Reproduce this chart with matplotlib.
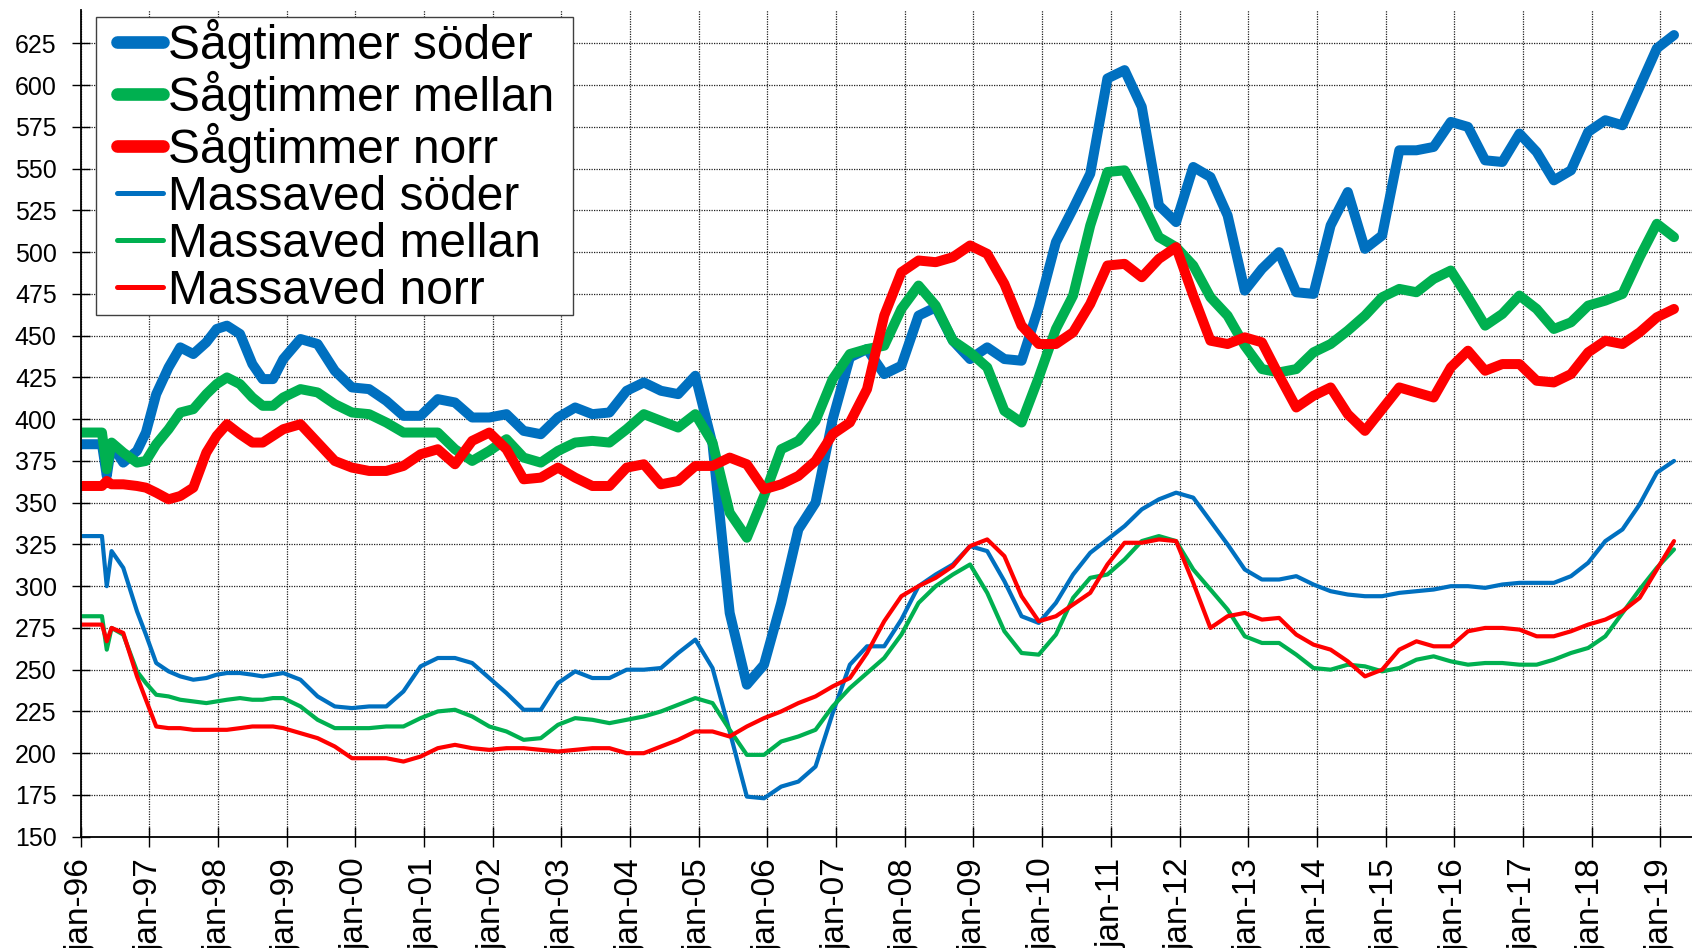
import numpy as np
import matplotlib
matplotlib.use("Agg")
import matplotlib.pyplot as plt
from matplotlib.patches import Rectangle

# ---- time axis (years after jan-96) ----
t_early = [0.00, 0.31, 0.38, 0.45, 0.62, 0.82, 0.95, 1.10, 1.28, 1.45, 1.64, 1.83,
           1.98, 2.13, 2.32, 2.50, 2.65, 2.80, 2.95]
t_quarterly = list(np.arange(3.20, 23.21, 0.25))
years = 1996 + np.array(t_early + t_quarterly)

# ---- series values (kr/m3fub) ----
sagtimmer_soder = (
    [385, 385, 366, 385, 374, 381, 392, 415, 431, 443, 439, 446, 454, 456, 451, 433, 424, 424, 436]
    + [448, 445, 429, 419, 418, 411, 402, 402, 412, 410, 401]
    + [401, 403, 393, 391, 401, 407, 403, 404, 417, 422, 417, 415, 426, 385, 284, 241, 253, 290, 334, 350, 400, 437, 442]
    + [427, 432, 462, 467, 447, 436, 443, 436, 435, 467, 506, 526, 547, 604, 609, 587, 528, 518, 551, 545, 522, 477, 490]
    + [500, 476, 475, 516, 536, 502, 510, 561, 561, 563, 578, 575, 555, 554, 571, 560, 543, 549, 572, 579, 576, 599, 622, 630]
)
sagtimmer_mellan = (
    [392, 392, 370, 386, 380, 374, 375, 385, 394, 404, 406, 415, 421, 425, 421, 413, 408, 408, 413]
    + [418, 416, 409, 404, 403, 398, 392, 392, 392, 382, 375]
    + [381, 388, 377, 374, 381, 386, 387, 386, 394, 403, 399, 395, 403, 386, 344, 329, 354, 382, 387, 399, 424, 439, 442]
    + [444, 466, 480, 468, 447, 440, 431, 405, 398, 425, 454, 474, 516, 548, 549, 530, 509, 503, 492, 473, 462, 444, 430]
    + [428, 430, 440, 445, 453, 462, 473, 478, 476, 484, 489, 473, 456, 463, 474, 466, 454, 458, 468, 471, 475, 497, 517, 509]
)
sagtimmer_norr = (
    [360, 360, 363, 361, 361, 360, 359, 356, 352, 354, 359, 380, 390, 397, 391, 386, 386, 390, 394]
    + [397, 386, 375, 371, 369, 369, 372, 379, 382, 373, 387]
    + [392, 382, 364, 365, 371, 365, 360, 360, 371, 373, 361, 363, 372, 372, 377, 373, 358, 361, 366, 375, 391, 398, 418]
    + [462, 488, 495, 494, 497, 504, 499, 481, 456, 445, 445, 452, 469, 492, 493, 485, 496, 503, 474, 447, 445, 449, 446]
    + [426, 407, 414, 419, 403, 393, 406, 419, 416, 413, 431, 441, 429, 433, 433, 423, 422, 427, 440, 447, 445, 452, 461, 466]
)
massaved_soder = (
    [330, 330, 300, 321, 311, 285, 271, 254, 249, 246, 244, 245, 247, 248, 248, 247, 246, 247, 248]
    + [244, 234, 228, 227, 228, 228, 237, 252, 257, 257, 254]
    + [245, 236, 226, 226, 242, 249, 245, 245, 250, 250, 251, 260, 268, 251, 213, 174, 173, 180, 183, 192, 224, 253, 264]
    + [264, 280, 300, 307, 313, 324, 321, 303, 282, 278, 290, 307, 320, 328, 336, 346, 352, 356, 353, 339, 325, 310, 304]
    + [304, 306, 301, 297, 295, 294, 294, 296, 297, 298, 300, 300, 299, 301, 302, 302, 302, 306, 314, 327, 334, 349, 368, 375]
)
massaved_mellan = (
    [282, 282, 262, 275, 271, 249, 242, 235, 234, 232, 231, 230, 231, 232, 233, 232, 232, 233, 233]
    + [228, 220, 215, 215, 215, 216, 216, 221, 225, 226, 222]
    + [216, 213, 208, 209, 217, 221, 220, 218, 220, 222, 225, 229, 233, 230, 214, 199, 199, 207, 210, 214, 228, 239, 248]
    + [257, 271, 290, 300, 307, 313, 296, 273, 260, 259, 271, 293, 305, 307, 316, 327, 330, 327, 310, 298, 286, 270, 266]
    + [266, 259, 251, 250, 253, 252, 249, 251, 256, 258, 255, 253, 254, 254, 253, 253, 256, 260, 263, 270, 284, 298, 311, 322]
)
massaved_norr = (
    [277, 277, 267, 275, 272, 246, 232, 216, 215, 215, 214, 214, 214, 214, 215, 216, 216, 216, 215]
    + [212, 209, 204, 197, 197, 197, 195, 198, 203, 205, 203]
    + [202, 203, 203, 202, 201, 202, 203, 203, 200, 200, 204, 208, 213, 213, 210, 216, 221, 225, 230, 234, 240, 245, 260]
    + [279, 294, 300, 305, 312, 324, 328, 318, 294, 279, 282, 289, 296, 313, 326, 326, 328, 327, 302, 275, 282, 284, 280]
    + [281, 271, 265, 262, 255, 246, 250, 262, 267, 264, 264, 273, 275, 275, 274, 270, 270, 273, 277, 280, 285, 293, 310, 327]
)

labels = ["Sågtimmer söder", "Sågtimmer mellan", "Sågtimmer norr",
          "Massaved söder", "Massaved mellan", "Massaved norr"]
series = [sagtimmer_soder, sagtimmer_mellan, sagtimmer_norr,
          massaved_soder, massaved_mellan, massaved_norr]
colors = ["#0070C0", "#00B050", "#FF0000", "#0070C0", "#00B050", "#FF0000"]
widths = [7.2, 7.2, 7.2, 3.0, 3.0, 3.0]
legend_widths = [9.1, 9.1, 9.1, 3.6, 3.6, 3.6]

tick_years = list(range(1996, 2020))
tick_labels = ["jan-%02d" % (y % 100) for y in tick_years]
y_ticks = list(range(150, 626, 25))

plt.rcParams['font.family'] = ['Liberation Sans', 'DejaVu Sans']

W, H = 1692, 948
fig = plt.figure(figsize=(W / 100, H / 100), dpi=100)
ax_l, ax_r, ax_b, ax_t = 80.67, 1692, 836.7, 10
ax = fig.add_axes([ax_l / W, 1 - ax_b / H, (ax_r - ax_l) / W, (ax_b - ax_t) / H])

handles = []
for vals, lab, c, lw in zip(series, labels, colors, widths):
    assert len(vals) == len(years), (lab, len(vals))
    h, = ax.plot(years, vals, color=c, lw=lw, label=lab,
                 solid_joinstyle='round', solid_capstyle='round')
    handles.append(h)

ax.set_xlim(1996, 1996 + 23.462)
ax.set_ylim(150, 645)
ax.set_xticks(tick_years)
ax.set_xticklabels(tick_labels, rotation=90, fontsize=24)
ax.set_yticks(y_ticks)
ax.set_yticklabels([str(v) for v in y_ticks], fontsize=18)
ax.tick_params(axis='x', direction='inout', length=14.4, width=1, pad=8)
ax.tick_params(axis='y', direction='inout', length=12.5, width=1, pad=11)
ax.grid(True, color='#202020', linestyle=(0, (1, 1)), linewidth=0.9)
ax.set_axisbelow(True)
for s in ['top', 'right']:
    ax.spines[s].set_visible(False)
for s in ['left', 'bottom']:
    ax.spines[s].set_linewidth(1.3)
    ax.spines[s].set_color('black')

# legend frame drawn separately (box in figure pixels)
bx0, by0, bx1, by1 = 96, 17.3, 573, 315
frame = Rectangle((bx0 / W, 1 - by1 / H), (bx1 - bx0) / W, (by1 - by0) / H,
                  transform=fig.transFigure, facecolor='white', edgecolor='#404040',
                  linewidth=1.0, zorder=4)
fig.patches.append(frame)

leg = fig.legend(handles=handles, loc='upper left',
                 bbox_to_anchor=(117 / W, 1 - 19 / H), bbox_transform=fig.transFigure,
                 borderaxespad=0, fontsize=34.5, frameon=False,
                 handlelength=0.97, handletextpad=0.1, labelspacing=0.04, borderpad=0)
leg.set_zorder(5)
for lh, lw in zip(leg.get_lines(), legend_widths):
    lh.set_solid_capstyle('round')
    lh.set_linewidth(lw)

fig.savefig("out.png", dpi=100)
